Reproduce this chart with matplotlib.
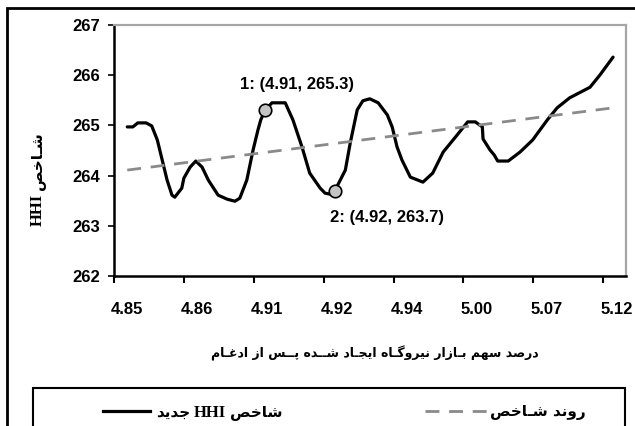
import matplotlib
matplotlib.use('Agg')
import matplotlib.pyplot as plt
from matplotlib.patches import Rectangle
from matplotlib.lines import Line2D

# ── Data (category positions along the x axis) ───────────────────────────────
x_labels = ['4.85', '4.86', '4.91', '4.92', '4.94', '5.00', '5.07', '5.12']

pos = [0.19, 0.27, 0.34, 0.46, 0.54, 0.62, 0.69, 0.76, 0.83, 0.87,
       0.97, 1.00, 1.09, 1.17, 1.26, 1.35, 1.49, 1.62, 1.73, 1.80,
       1.90, 1.99, 2.06, 2.10, 2.16, 2.26, 2.45, 2.56, 2.69, 2.80,
       2.95, 3.02, 3.09, 3.16, 3.31, 3.38, 3.48, 3.56, 3.66, 3.78,
       3.91, 3.98, 4.05, 4.12, 4.24, 4.42, 4.56, 4.71, 4.91, 5.06,
       5.17, 5.27, 5.28, 5.38, 5.44, 5.49, 5.64, 5.81, 5.99, 6.20,
       6.34, 6.52, 6.81, 6.95, 7.14]
hhi = [264.97, 264.97, 265.05, 265.05, 264.99, 264.71, 264.31, 263.91, 263.61, 263.57,
       263.75, 263.95, 264.17, 264.29, 264.17, 263.91, 263.61, 263.53, 263.49, 263.55,
       263.91, 264.51, 264.91, 265.11, 265.30, 265.45, 265.45, 265.11, 264.57, 264.05,
       263.75, 263.65, 263.63, 263.70, 264.11, 264.65, 265.31, 265.49, 265.53, 265.45,
       265.21, 264.97, 264.57, 264.31, 263.97, 263.87, 264.05, 264.47, 264.81, 265.07,
       265.07, 264.97, 264.73, 264.51, 264.41, 264.29, 264.29, 264.47, 264.71, 265.11,
       265.35, 265.55, 265.76, 266.00, 266.36]

trend_pos = [0.19, 7.14]
trend_val = [264.11, 265.35]

mark_pos = [2.16, 3.16]
mark_val = [265.3, 263.7]
mark_text = ['1: (4.91, 265.3)', '2: (4.92, 263.7)']

# ── Persian text shaping (presentation forms, visual order) ──────────────────
FORMS = {
    'ا': ('\uFE8D', '\uFE8E'), 'د': ('\uFEA9', '\uFEAA'),
    'ر': ('\uFEAD', '\uFEAE'), 'ز': ('\uFEAF', '\uFEB0'),
    'و': ('\uFEED', '\uFEEE'),
    'ب': ('\uFE8F', '\uFE90', '\uFE91', '\uFE92'),
    'پ': ('\uFB56', '\uFB57', '\uFB58', '\uFB59'),
    'ج': ('\uFE9D', '\uFE9E', '\uFE9F', '\uFEA0'),
    'خ': ('\uFEA5', '\uFEA6', '\uFEA7', '\uFEA8'),
    'س': ('\uFEB1', '\uFEB2', '\uFEB3', '\uFEB4'),
    'ش': ('\uFEB5', '\uFEB6', '\uFEB7', '\uFEB8'),
    'ص': ('\uFEB9', '\uFEBA', '\uFEBB', '\uFEBC'),
    'غ': ('\uFECD', '\uFECE', '\uFECF', '\uFED0'),
    'م': ('\uFEE1', '\uFEE2', '\uFEE3', '\uFEE4'),
    'ن': ('\uFEE5', '\uFEE6', '\uFEE7', '\uFEE8'),
    'ه': ('\uFEE9', '\uFEEA', '\uFEEB', '\uFEEC'),
    'ی': ('\uFBFC', '\uFBFD', '\uFBFE', '\uFBFF'),
    'گ': ('\uFB92', '\uFB93', '\uFB94', '\uFB95'),
    'ـ': ('ـ', 'ـ', 'ـ', 'ـ'),
}


def shape(word):
    out = []
    for i, c in enumerate(word):
        if c not in FORMS:
            out.append(c)
            continue
        f = FORMS[c]
        prev = word[i - 1] if i > 0 else None
        nxt = word[i + 1] if i < len(word) - 1 else None
        jp = prev in FORMS and len(FORMS[prev]) == 4
        jn = len(f) == 4 and nxt in FORMS
        out.append(f[3] if jp and jn else f[1] if jp else f[2] if jn else f[0])
    return ''.join(out)


def rtl(text):
    words = text.split(' ')
    return ' '.join(shape(w)[::-1] if any(c in FORMS for c in w) else w
                    for w in reversed(words))


fa_font = 'DejaVu Sans'
latin_serif = 'Liberation Serif'
num_font = ['Liberation Sans Narrow', 'Liberation Sans']

# ── Figure ───────────────────────────────────────────────────────────────────
fig = plt.figure(figsize=(6.35, 4.26), dpi=100)
ax = fig.add_axes([0.1795, 0.3521, 0.8063, 0.5892])

ax.plot(pos, hhi, color='black', lw=2.3, solid_joinstyle='round',
        solid_capstyle='round', zorder=3)
ax.plot(trend_pos, trend_val, color='#8a8a8a', lw=2, dashes=(5, 3.5), zorder=4)
ax.plot(mark_pos, mark_val, 'o', ms=9, mfc='#c4c4c4', mec='black', mew=1.2, zorder=5)

ax.text(1.80, 265.82, mark_text[0], ha='left', va='center',
        family=num_font, weight='bold', fontsize=12)
ax.text(3.09, 263.16, mark_text[1], ha='left', va='center',
        family=num_font, weight='bold', fontsize=12)

ax.set_xlim(0, 7.325)
ax.set_ylim(262, 267)
ax.set_yticks(range(262, 268))
ax.set_xticks(range(8))
ax.set_xticklabels([])
ax.set_xticks([i + 0.19 for i in range(8)], minor=True)
ax.set_xticklabels(x_labels, minor=True, family=num_font, weight='bold', fontsize=12)
ax.tick_params(axis='x', which='major', length=5, width=1.5, direction='out')
ax.tick_params(axis='x', which='minor', length=0, pad=19)
ax.tick_params(axis='y', length=4, width=1.2, direction='out', pad=6)
for lab in ax.get_yticklabels():
    lab.set_family(num_font)
    lab.set_weight('bold')
    lab.set_fontsize(12)

for s in ['left', 'bottom']:
    ax.spines[s].set_color('black')
    ax.spines[s].set_linewidth(1.8)
for s in ['top', 'right']:
    ax.spines[s].set_color('#a6a6a6')
    ax.spines[s].set_linewidth(1.6)

renderer = fig.canvas.get_renderer()
W, H = 635.0, 426.0


def text_run(pieces, x0, y0, vertical=False, gap=4):
    """Lay out (text, family, size) pieces one after another, in pixels."""
    cur = x0 if not vertical else y0
    for s, fam, size in pieces:
        if vertical:
            t = fig.text(x0 / W, cur / H, s, rotation=90, ha='center', va='bottom',
                         family=fam, weight='bold', fontsize=size)
            cur = t.get_window_extent(renderer).y1 + gap
        else:
            t = fig.text(cur / W, y0 / H, s, ha='left', va='center_baseline',
                         family=fam, weight='bold', fontsize=size)
            cur = t.get_window_extent(renderer).x1 + gap


# y label: HHI (bottom) then the Persian word
text_run([('HHI', latin_serif, 12), (rtl('شـاخص'), fa_font, 11)],
         38, H - 226, vertical=True)

fig.text(375 / W, 1 - 353 / H,
         rtl('درصد سهم بـازار نیروگـاه ایجـاد شــده پــس از ادغـام'),
         ha='center', va='center', family=fa_font, weight='bold', fontsize=9)

# outer frame and legend box
fig.add_artist(Rectangle((7 / W, -0.05), 1.0, 1 - 8 / H + 0.05,
                         transform=fig.transFigure, fill=False,
                         edgecolor='black', lw=2))
fig.add_artist(Rectangle((33 / W, -0.05), (625 - 33) / W, 1 - 388 / H + 0.05,
                         transform=fig.transFigure, fill=False,
                         edgecolor='black', lw=1.5))

ly = H - 411
fig.add_artist(Line2D([103 / W, 150 / W], [ly / H, ly / H], transform=fig.transFigure,
                      color='black', lw=2.3))
text_run([(rtl('جدید'), fa_font, 11), ('HHI', latin_serif, 12),
          (rtl('شاخص'), fa_font, 11)], 156, ly)
fig.add_artist(Line2D([425 / W, 487 / W], [ly / H, ly / H], transform=fig.transFigure,
                      color='#8a8a8a', lw=2, dashes=(5, 3.5)))
text_run([(rtl('روند شـاخص'), fa_font, 11)], 490, ly)

fig.savefig('out.png', dpi=100)
